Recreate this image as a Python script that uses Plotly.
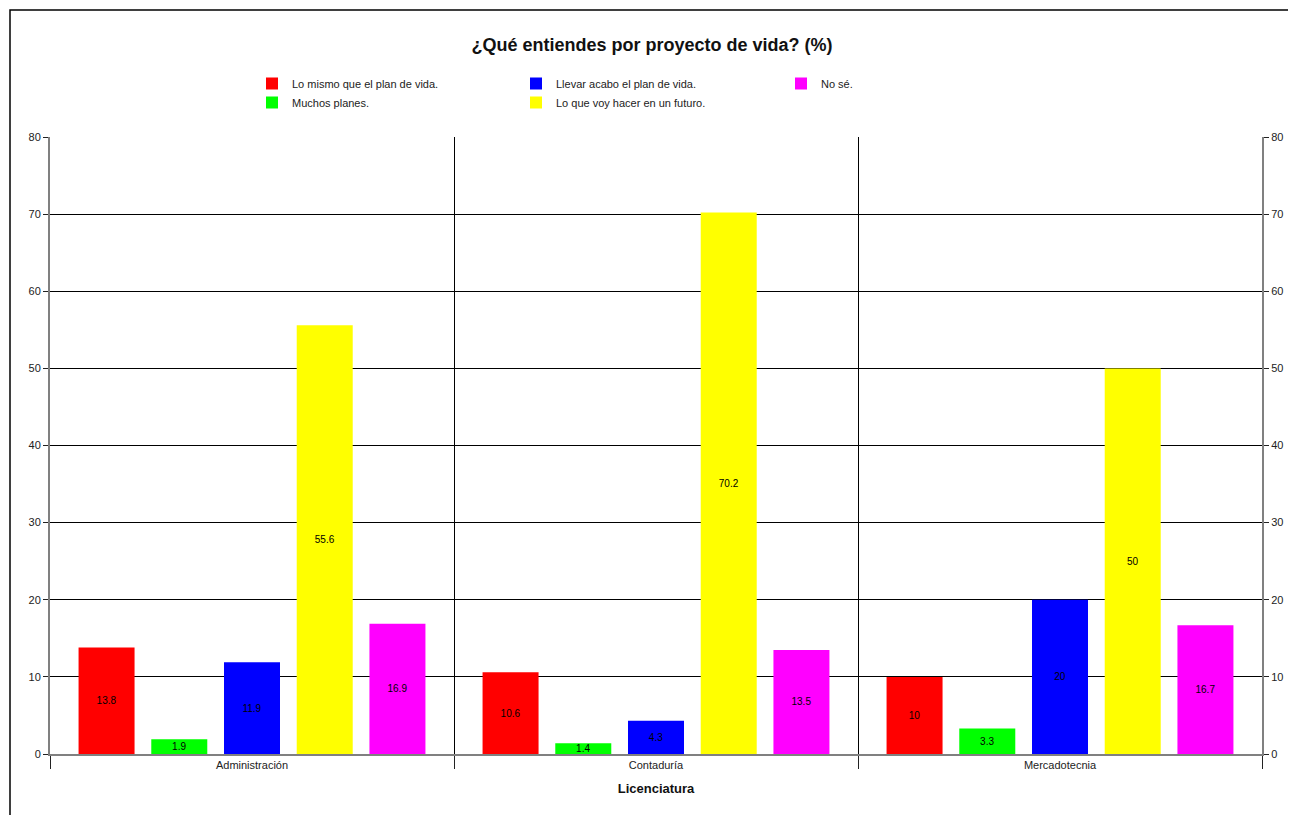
import plotly.graph_objects as go

categories = ["Administración", "Contaduría", "Mercadotecnia"]
series_names = [
    "Lo mismo que el plan de vida.",
    "Muchos planes.",
    "Llevar acabo el plan de vida.",
    "Lo que voy hacer en un futuro.",
    "No sé.",
]
series_values = [
    [13.8, 10.6, 10],
    [1.9, 1.4, 3.3],
    [11.9, 4.3, 20],
    [55.6, 70.2, 50],
    [16.9, 13.5, 16.7],
]
series_colors = ["#FF0000", "#00FF00", "#0000FF", "#FFFF00", "#FF00FF"]
legend_groups = ["legend", "legend", "legend2", "legend2", "legend3"]
y_ticks = [0, 10, 20, 30, 40, 50, 60, 70, 80]

FONT = "Liberation Sans, Arial, sans-serif"

W, H = 1288, 807
L, R, T, B = 42, 34, 129, 61
PW, PH = W - L - R, H - T - B

fig = go.Figure()
for name, vals, col, lg in zip(series_names, series_values, series_colors, legend_groups):
    fig.add_trace(go.Bar(
        x=categories, y=vals, name=name,
        marker=dict(color=col, line=dict(width=0)),
        texttemplate="%{y}", textposition="inside", insidetextanchor="middle",
        textangle=0, constraintext="none",
        textfont=dict(size=10, color="#000000", family=FONT),
        legend=lg,
    ))

fig.add_trace(go.Scatter(x=[], y=[], yaxis="y2", showlegend=False, hoverinfo="skip"))

leg_y = 1 + 68 / PH
def leg(px):
    return dict(orientation="v", x=(px - L) / PW, xanchor="left", y=leg_y, yanchor="top",
                font=dict(size=11, color="#222222", family=FONT),
                bgcolor="rgba(0,0,0,0)", tracegroupgap=0, itemclick=False)

fig.update_layout(
    width=W, height=H,
    paper_bgcolor="white", plot_bgcolor="white",
    margin=dict(l=L, r=R, t=T, b=B),
    font=dict(family=FONT, size=11, color="#222222"),
    title=dict(text="<b>¿Qué entiendes por proyecto de vida? (%)</b>",
               x=0.5, xanchor="center", y=1 - 37 / H, yanchor="middle",
               font=dict(size=18, color="#111111", family=FONT)),
    barmode="group", bargap=0.1, bargroupgap=0.23,
    showlegend=True,
    legend=leg(244), legend2=leg(508), legend3=leg(773),
    xaxis=dict(
        type="category", showline=True, linecolor="#808080", linewidth=2,
        ticks="outside", tickson="boundaries", ticklen=13, tickcolor="#222222",
        showgrid=True, gridcolor="#000000", gridwidth=1,
        tickfont=dict(size=11, color="#222222"),
        title=dict(text="<b>Licenciatura</b>", font=dict(size=13, color="#111111"), standoff=14),
    ),
    yaxis=dict(
        range=[0, 80], tickvals=y_ticks, showline=True, linecolor="#808080", linewidth=2,
        ticks="outside", ticklen=5, tickcolor="#222222",
        showgrid=True, gridcolor="#000000", gridwidth=1, zeroline=False,
        tickfont=dict(size=11, color="#222222"),
    ),
    yaxis2=dict(
        range=[0, 80], tickvals=y_ticks, overlaying="y", side="right",
        showline=True, linecolor="#808080", linewidth=2,
        ticks="outside", ticklen=5, tickcolor="#222222",
        showgrid=False, zeroline=False,
        tickfont=dict(size=11, color="#222222"),
    ),
    shapes=[dict(type="rect", xref="paper", yref="paper",
                 x0=-(L - 2) / PW, x1=1.0 + (R + 10) / PW, y0=-(B + 10) / PH, y1=1 + (T - 2) / PH,
                 line=dict(color="#000000", width=1.5), fillcolor="rgba(0,0,0,0)", layer="below")],
)

fig.write_html("out.html")
